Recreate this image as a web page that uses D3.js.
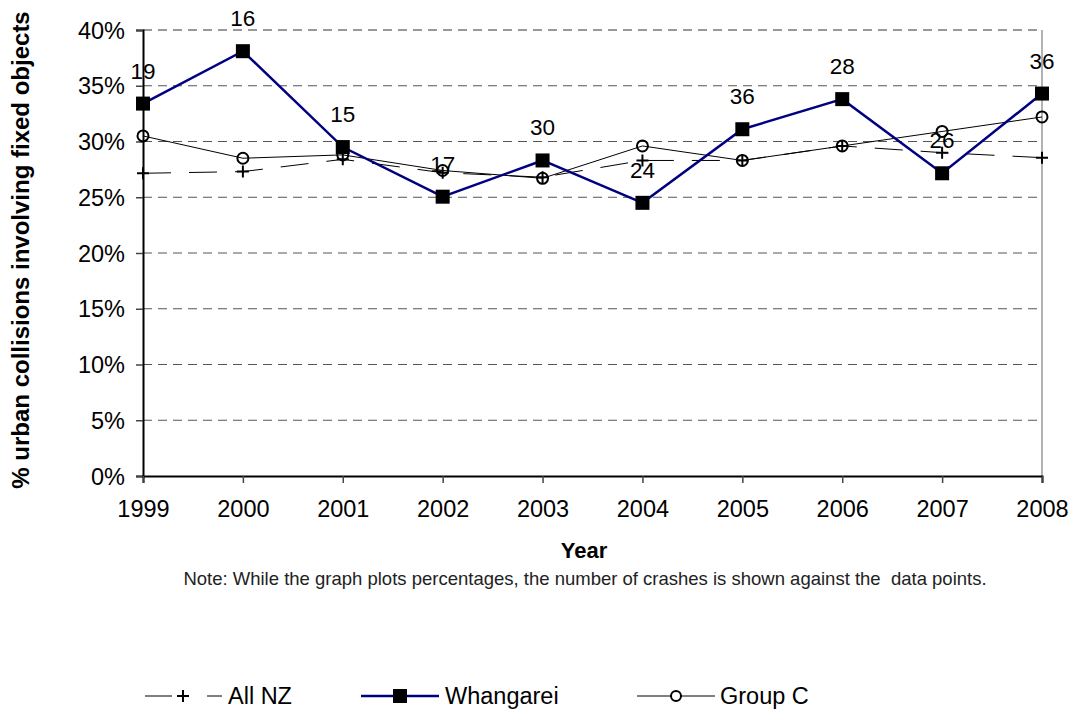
<!DOCTYPE html>
<html><head><meta charset="utf-8">
<script src="https://cdn.jsdelivr.net/npm/d3@7"></script>
<style>
body{margin:0;background:#fff;}
text{font-family:Arial,"Liberation Sans",Helvetica,sans-serif;fill:#000;}
</style></head>
<body>
<svg id="chart" width="1072" height="710"></svg>
<script>
const years = ["1999","2000","2001","2002","2003","2004","2005","2006","2007","2008"];
const allNZ = [27.15, 27.3, 28.4, 27.2, 26.8, 28.3, 28.3, 29.6, 29.0, 28.55];
const whangarei = [33.4, 38.1, 29.5, 25.05, 28.3, 24.5, 31.1, 33.8, 27.15, 34.3];
const groupC = [30.5, 28.5, 28.8, 27.4, 26.7, 29.6, 28.3, 29.6, 30.9, 32.2];
const crashCounts = ["19","16","15","17","30","24","36","28","26","36"];
const yTicks = [0,5,10,15,20,25,30,35,40];

const svg = d3.select("#chart");
const pLeft = 143, pRight = 1042, pTop = 30, pBottom = 476;

const x = d3.scalePoint().domain(years).range([pLeft, pRight]);
const y = d3.scaleLinear().domain([0, 40]).range([pBottom, pTop]);

// gridlines
svg.append("g").selectAll("line").data(yTicks.filter(d => d > 0)).join("line")
  .attr("x1", pLeft).attr("x2", pRight)
  .attr("y1", d => y(d)).attr("y2", d => y(d))
  .attr("stroke", d => d === 40 ? "#333" : "#555").attr("stroke-width", 1)
  .attr("stroke-dasharray", "9,6");

// right border
svg.append("line").attr("x1", pRight).attr("x2", pRight).attr("y1", pTop).attr("y2", pBottom)
  .attr("stroke", "#666").attr("stroke-width", 1);

// y axis
const yAxis = svg.append("g").attr("transform", `translate(${pLeft},0)`)
  .call(d3.axisLeft(y).tickValues(yTicks).tickFormat(d => d + "%").tickSize(7).tickPadding(11));
yAxis.select(".domain").attr("stroke", "#000").attr("stroke-width", 2);
yAxis.selectAll(".tick line").attr("stroke", "#444").attr("stroke-width", 1.5);
yAxis.selectAll("text").style("font-size", "23.5px").attr("dy", "0.35em");

// x axis
const xAxis = svg.append("g").attr("transform", `translate(0,${pBottom})`)
  .call(d3.axisBottom(x).tickSize(7).tickPadding(17));
xAxis.select(".domain").attr("stroke", "#000").attr("stroke-width", 2);
xAxis.selectAll(".tick line").attr("stroke", "#444").attr("stroke-width", 1.5);
xAxis.selectAll("text").style("font-size", "23.5px");

const line = d3.line().x((d, i) => x(years[i])).y(d => y(d));

// All NZ
svg.append("path").datum(allNZ).attr("d", line).attr("fill", "none")
  .attr("stroke", "#000").attr("stroke-width", 1).attr("stroke-dasharray", "28,18");
// Group C
svg.append("path").datum(groupC).attr("d", line).attr("fill", "none")
  .attr("stroke", "#000").attr("stroke-width", 1);
// Whangarei
svg.append("path").datum(whangarei).attr("d", line).attr("fill", "none")
  .attr("stroke", "#000080").attr("stroke-width", 2.5);

function plusPath(cx, cy, s) { return `M${cx - s},${cy}H${cx + s}M${cx},${cy - s}V${cy + s}`; }

// markers All NZ
svg.append("g").selectAll("path").data(allNZ).join("path")
  .attr("d", (d, i) => plusPath(x(years[i]), y(d), 6))
  .attr("stroke", "#000").attr("stroke-width", 2).attr("fill", "none");
// markers Group C
svg.append("g").selectAll("circle").data(groupC).join("circle")
  .attr("cx", (d, i) => x(years[i])).attr("cy", d => y(d)).attr("r", 5.5)
  .attr("fill", "none").attr("stroke", "#000").attr("stroke-width", 2);
// markers Whangarei
svg.append("g").selectAll("rect").data(whangarei).join("rect")
  .attr("x", (d, i) => x(years[i]) - 7).attr("y", d => y(d) - 7)
  .attr("width", 14).attr("height", 14).attr("fill", "#000");

// data labels
svg.append("g").selectAll("text").data(whangarei).join("text")
  .attr("x", (d, i) => x(years[i])).attr("y", d => y(d) - 25)
  .attr("text-anchor", "middle").style("font-size", "22.5px")
  .text((d, i) => crashCounts[i]);

// axis titles
svg.append("text").attr("transform", "translate(29,250) rotate(-90)")
  .attr("text-anchor", "middle").style("font-size", "24px").style("font-weight", "bold")
  .text("% urban collisions involving fixed objects");
svg.append("text").attr("x", 584).attr("y", 558).attr("text-anchor", "middle")
  .style("font-size", "22px").style("font-weight", "bold").text("Year");
svg.append("text").attr("x", 585).attr("y", 585).attr("text-anchor", "middle")
  .style("font-size", "18.5px").style("fill", "#222").style("white-space", "pre")
  .text("Note: While the graph plots percentages, the number of crashes is shown against the  data points.");

// legend
const ly = 696;
const lg = svg.append("g");
lg.append("line").attr("x1", 145).attr("x2", 222).attr("y1", ly).attr("y2", ly)
  .attr("stroke", "#000").attr("stroke-width", 1).attr("stroke-dasharray", "27,35");
lg.append("path").attr("d", plusPath(183, ly, 6)).attr("stroke", "#000").attr("stroke-width", 2);
lg.append("text").attr("x", 228).attr("y", ly + 8).style("font-size", "23.5px").text("All NZ");
lg.append("line").attr("x1", 361).attr("x2", 439).attr("y1", ly).attr("y2", ly)
  .attr("stroke", "#000080").attr("stroke-width", 2.5);
lg.append("rect").attr("x", 393).attr("y", ly - 7).attr("width", 14).attr("height", 14).attr("fill", "#000");
lg.append("text").attr("x", 445).attr("y", ly + 8).style("font-size", "23.5px").text("Whangarei");
lg.append("line").attr("x1", 637).attr("x2", 715).attr("y1", ly).attr("y2", ly)
  .attr("stroke", "#000").attr("stroke-width", 1);
lg.append("circle").attr("cx", 676).attr("cy", ly).attr("r", 5).attr("fill", "#fff")
  .attr("stroke", "#000").attr("stroke-width", 2);
lg.append("text").attr("x", 720).attr("y", ly + 8).style("font-size", "23.5px").text("Group C");
</script>
</body></html>
